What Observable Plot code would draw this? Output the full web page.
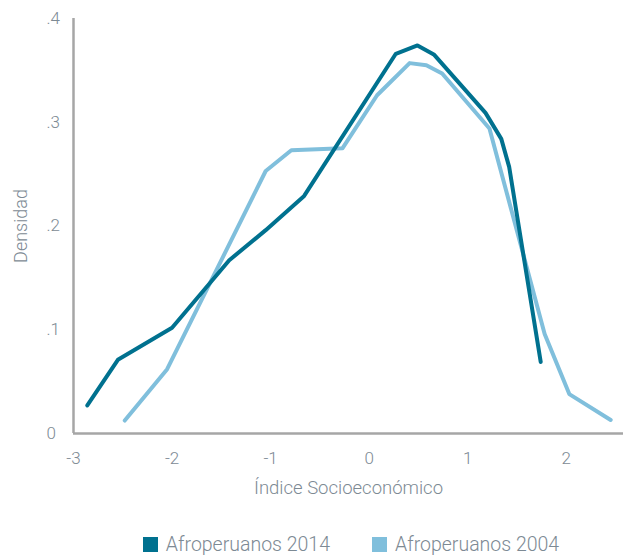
<!DOCTYPE html>
<html><head><meta charset="utf-8">
<script src="https://cdn.jsdelivr.net/npm/d3@7"></script>
<script src="https://cdn.jsdelivr.net/npm/@observablehq/plot@0.6"></script>
<style>
body{margin:0;background:#fff;font-family:Roboto,"Liberation Sans",sans-serif;font-weight:300;}
#legend{display:flex;justify-content:center;gap:42px;margin-top:25px;margin-left:81px;width:540px;color:#7d8a94;font-size:19.5px;}
.item{display:flex;align-items:center;gap:8px;}
.sw{width:15px;height:15px;display:inline-block;}
</style></head>
<body>
<div id="chart"></div>
<div id="legend"></div>
<script>
const series = ["Afroperuanos 2014", "Afroperuanos 2004"];
const colors = ["#00718f", "#80bfdc"];
const x2014 = [-2.86,-2.55,-2.00,-1.42,-1.05,-0.66,0.27,0.49,0.66,1.18,1.34,1.42,1.74];
const y2014 = [0.027,0.071,0.102,0.167,0.196,0.229,0.366,0.374,0.365,0.309,0.284,0.257,0.069];
const x2004 = [-2.48,-2.05,-1.05,-0.79,-0.27,0.08,0.41,0.58,0.74,1.22,1.78,2.03,2.45];
const y2004 = [0.0125,0.062,0.253,0.273,0.275,0.326,0.357,0.355,0.347,0.294,0.096,0.038,0.013];
const xTicks = [-3,-2,-1,0,1,2];
const yTicks = [0,0.1,0.2,0.3,0.4];
const xLabel = "Índice Socioeconómico";
const yLabel = "Densidad";

const d2014 = x2014.map((x,i)=>({x, y:y2014[i], s:series[0]}));
const d2004 = x2004.map((x,i)=>({x, y:y2004[i], s:series[1]}));

const textColor = "#7d8a94";
const chart = Plot.plot({
  width: 623, height: 508,
  marginLeft: 73, marginRight: 0, marginTop: 18, marginBottom: 75,
  style: {fontFamily: "Roboto, 'Liberation Sans', sans-serif", fontWeight: 300, fontSize: "17px", color: textColor, background: "#fff"},
  x: {domain: [-3, 2.58]},
  y: {domain: [0, 0.4]},
  marks: [
    Plot.axisX({ticks: xTicks, tickSize: 0, tickPadding: 18, fontSize: 17, fill: textColor,
      tickFormat: d => String(d), label: null}),
    Plot.axisY({ticks: yTicks, tickSize: 0, tickPadding: 3, dx: -24, textAnchor: "start", fontSize: 17, fill: textColor,
      tickFormat: d => d === 0 ? "0" : d3.format(".1f")(d).replace(/^0/, ""), label: null}),
    Plot.text([xLabel], {frameAnchor: "bottom", dy: 60, text: d => d, fontSize: 18.5, fill: textColor}),
    Plot.text([yLabel], {frameAnchor: "left", dx: -52, rotate: -90, textAnchor: "middle", text: d => d, fontSize: 18, fill: textColor}),
    Plot.ruleX([-3], {stroke: "#a6a6a6", strokeWidth: 2.5}),
    Plot.ruleY([0], {stroke: "#a6a6a6", strokeWidth: 2.5}),
    Plot.line(d2004, {x: "x", y: "y", stroke: colors[1], strokeWidth: 4, strokeLinejoin: "round", strokeLinecap: "round"}),
    Plot.line(d2014, {x: "x", y: "y", stroke: colors[0], strokeWidth: 4, strokeLinejoin: "round", strokeLinecap: "round"})
  ]
});
document.getElementById("chart").appendChild(chart);

const leg = document.getElementById("legend");
series.forEach((s,i)=>{
  const it = document.createElement("div"); it.className = "item";
  const sw = document.createElement("span"); sw.className = "sw"; sw.style.background = colors[i];
  const t = document.createElement("span"); t.textContent = s;
  it.appendChild(sw); it.appendChild(t); leg.appendChild(it);
});
</script>
</body></html>
